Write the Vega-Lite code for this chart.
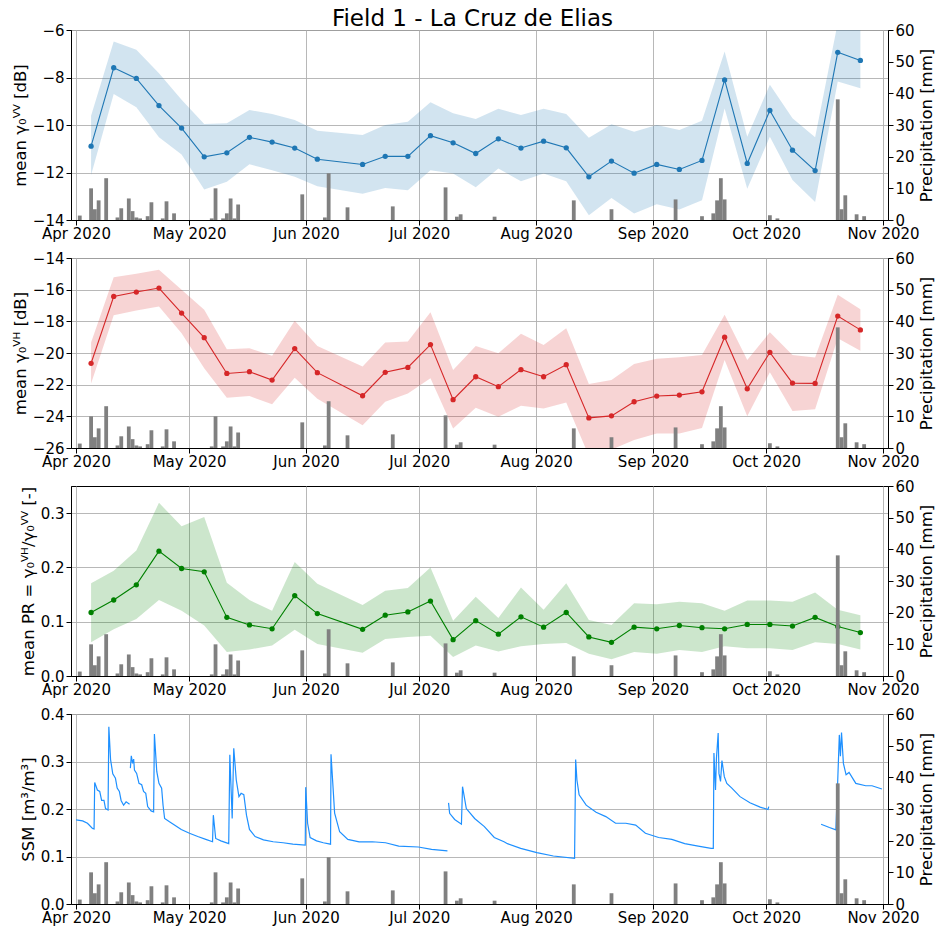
{
  "$schema": "https://vega.github.io/schema/vega-lite/v6.json",
  "padding": {"left": 11, "top": 7, "right": 0, "bottom": 0},
  "title": {"text": "Field 1 - La Cruz de Elias", "fontSize": 23, "font": "DejaVu Sans", "fontWeight": "normal", "anchor": "middle", "offset": -8, "color": "black", "dx": -1},
  "config": {
    "font": "DejaVu Sans",
    "view": {"stroke": "black", "strokeWidth": 1},
    "axis": {"labelFont": "DejaVu Sans", "labelFontSize": 15, "titleFont": "DejaVu Sans", "titleFontSize": 16.5, "titleFontWeight": "normal", "labelColor": "black", "titleColor": "black", "domainColor": "black", "tickColor": "black", "tickSize": 5, "labelPadding": 2, "gridColor": "#b0b0b0", "gridWidth": 1, "gridOpacity": 0.9},
    "axisX": {"labelPadding": 1}
  },
  "spacing": 38,
  "bounds": "flush",
  "datasets": {
    "s1": [
      {"date": "2020-04-05T00:00", "vv": -10.89, "vv_lo": -12.11, "vv_hi": -9.61, "vh": -20.65, "vh_lo": -21.92, "vh_hi": -19.34, "pr": 0.117, "pr_lo": 0.062, "pr_hi": 0.171},
      {"date": "2020-04-11T00:00", "vv": -7.59, "vv_lo": -8.69, "vv_hi": -6.48, "vh": -16.43, "vh_lo": -17.61, "vh_hi": -15.22, "pr": 0.140, "pr_lo": 0.086, "pr_hi": 0.194},
      {"date": "2020-04-17T00:00", "vv": -8.04, "vv_lo": -9.25, "vv_hi": -6.83, "vh": -16.15, "vh_lo": -17.32, "vh_hi": -14.99, "pr": 0.168, "pr_lo": 0.105, "pr_hi": 0.231},
      {"date": "2020-04-23T00:00", "vv": -9.18, "vv_lo": -10.52, "vv_hi": -7.82, "vh": -15.9, "vh_lo": -17.06, "vh_hi": -14.74, "pr": 0.230, "pr_lo": 0.140, "pr_hi": 0.319},
      {"date": "2020-04-29T00:00", "vv": -10.13, "vv_lo": -11.24, "vv_hi": -8.94, "vh": -17.48, "vh_lo": -18.75, "vh_hi": -16.0, "pr": 0.198, "pr_lo": 0.120, "pr_hi": 0.276},
      {"date": "2020-05-05T00:00", "vv": -11.34, "vv_lo": -12.72, "vv_hi": -9.96, "vh": -19.03, "vh_lo": -20.97, "vh_hi": -17.27, "pr": 0.192, "pr_lo": 0.093, "pr_hi": 0.293},
      {"date": "2020-05-11T00:00", "vv": -11.17, "vv_lo": -12.39, "vv_hi": -9.93, "vh": -21.29, "vh_lo": -22.83, "vh_hi": -19.77, "pr": 0.108, "pr_lo": 0.044, "pr_hi": 0.172},
      {"date": "2020-05-17T00:00", "vv": -10.52, "vv_lo": -11.65, "vv_hi": -9.37, "vh": -21.18, "vh_lo": -22.72, "vh_hi": -19.7, "pr": 0.094, "pr_lo": 0.049, "pr_hi": 0.140},
      {"date": "2020-05-23T00:00", "vv": -10.72, "vv_lo": -11.9, "vv_hi": -9.54, "vh": -21.71, "vh_lo": -23.23, "vh_hi": -20.17, "pr": 0.087, "pr_lo": 0.056, "pr_hi": 0.120},
      {"date": "2020-05-29T00:00", "vv": -10.97, "vv_lo": -12.18, "vv_hi": -9.79, "vh": -19.72, "vh_lo": -21.56, "vh_hi": -17.97, "pr": 0.148, "pr_lo": 0.085, "pr_hi": 0.210},
      {"date": "2020-06-04T00:00", "vv": -11.44, "vv_lo": -12.58, "vv_hi": -10.24, "vh": -21.24, "vh_lo": -22.89, "vh_hi": -19.55, "pr": 0.115, "pr_lo": 0.059, "pr_hi": 0.170},
      {"date": "2020-06-16T00:00", "vv": -11.66, "vv_lo": -12.89, "vv_hi": -10.42, "vh": -22.7, "vh_lo": -24.56, "vh_hi": -20.86, "pr": 0.086, "pr_lo": 0.043, "pr_hi": 0.131},
      {"date": "2020-06-22T00:00", "vv": -11.32, "vv_lo": -12.65, "vv_hi": -10.0, "vh": -21.22, "vh_lo": -23.08, "vh_hi": -19.34, "pr": 0.112, "pr_lo": 0.068, "pr_hi": 0.157},
      {"date": "2020-06-28T00:00", "vv": -11.32, "vv_lo": -12.75, "vv_hi": -9.86, "vh": -20.91, "vh_lo": -22.55, "vh_hi": -19.28, "pr": 0.118, "pr_lo": 0.072, "pr_hi": 0.162},
      {"date": "2020-07-04T00:00", "vv": -10.45, "vv_lo": -11.9, "vv_hi": -9.04, "vh": -19.47, "vh_lo": -21.6, "vh_hi": -17.42, "pr": 0.138, "pr_lo": 0.074, "pr_hi": 0.200},
      {"date": "2020-07-10T00:00", "vv": -10.75, "vv_lo": -12.04, "vv_hi": -9.51, "vh": -22.95, "vh_lo": -24.77, "vh_hi": -21.07, "pr": 0.067, "pr_lo": 0.035, "pr_hi": 0.102},
      {"date": "2020-07-16T00:00", "vv": -11.2, "vv_lo": -12.62, "vv_hi": -9.75, "vh": -21.5, "vh_lo": -23.46, "vh_hi": -19.55, "pr": 0.102, "pr_lo": 0.056, "pr_hi": 0.146},
      {"date": "2020-07-22T00:00", "vv": -10.58, "vv_lo": -11.83, "vv_hi": -9.32, "vh": -22.13, "vh_lo": -24.03, "vh_hi": -20.02, "pr": 0.077, "pr_lo": 0.045, "pr_hi": 0.107},
      {"date": "2020-07-28T00:00", "vv": -10.97, "vv_lo": -12.37, "vv_hi": -9.58, "vh": -21.05, "vh_lo": -23.33, "vh_hi": -18.79, "pr": 0.109, "pr_lo": 0.055, "pr_hi": 0.163},
      {"date": "2020-08-03T00:00", "vv": -10.68, "vv_lo": -12.04, "vv_hi": -9.32, "vh": -21.5, "vh_lo": -23.5, "vh_hi": -19.49, "pr": 0.090, "pr_lo": 0.059, "pr_hi": 0.122},
      {"date": "2020-08-09T00:00", "vv": -10.96, "vv_lo": -12.37, "vv_hi": -9.54, "vh": -20.74, "vh_lo": -23.12, "vh_hi": -18.43, "pr": 0.117, "pr_lo": 0.061, "pr_hi": 0.171},
      {"date": "2020-08-15T00:00", "vv": -12.18, "vv_lo": -13.8, "vv_hi": -10.54, "vh": -24.1, "vh_lo": -26.5, "vh_hi": -21.96, "pr": 0.072, "pr_lo": 0.041, "pr_hi": 0.103},
      {"date": "2020-08-21T00:00", "vv": -11.52, "vv_lo": -13.07, "vv_hi": -9.97, "vh": -23.97, "vh_lo": -26.1, "vh_hi": -21.71, "pr": 0.062, "pr_lo": 0.031, "pr_hi": 0.094},
      {"date": "2020-08-27T00:00", "vv": -12.03, "vv_lo": -13.73, "vv_hi": -10.28, "vh": -23.08, "vh_lo": -25.5, "vh_hi": -20.7, "pr": 0.090, "pr_lo": 0.044, "pr_hi": 0.134},
      {"date": "2020-09-02T00:00", "vv": -11.66, "vv_lo": -13.34, "vv_hi": -10.0, "vh": -22.72, "vh_lo": -25.09, "vh_hi": -20.36, "pr": 0.087, "pr_lo": 0.041, "pr_hi": 0.132},
      {"date": "2020-09-08T00:00", "vv": -11.87, "vv_lo": -13.56, "vv_hi": -10.21, "vh": -22.66, "vh_lo": -25.09, "vh_hi": -20.27, "pr": 0.093, "pr_lo": 0.048, "pr_hi": 0.137},
      {"date": "2020-09-14T00:00", "vv": -11.49, "vv_lo": -13.17, "vv_hi": -9.82, "vh": -22.45, "vh_lo": -24.73, "vh_hi": -20.12, "pr": 0.089, "pr_lo": 0.044, "pr_hi": 0.134},
      {"date": "2020-09-20T00:00", "vv": -8.1, "vv_lo": -9.3, "vv_hi": -6.9, "vh": -19.0, "vh_lo": -20.44, "vh_hi": -17.59, "pr": 0.087, "pr_lo": 0.055, "pr_hi": 0.120},
      {"date": "2020-09-26T00:00", "vv": -11.62, "vv_lo": -12.68, "vv_hi": -10.49, "vh": -22.26, "vh_lo": -23.99, "vh_hi": -20.44, "pr": 0.095, "pr_lo": 0.051, "pr_hi": 0.139},
      {"date": "2020-10-02T00:00", "vv": -9.39, "vv_lo": -10.49, "vv_hi": -8.31, "vh": -19.96, "vh_lo": -21.22, "vh_hi": -18.69, "pr": 0.095, "pr_lo": 0.051, "pr_hi": 0.139},
      {"date": "2020-10-08T00:00", "vv": -11.06, "vv_lo": -12.32, "vv_hi": -9.72, "vh": -21.9, "vh_lo": -23.67, "vh_hi": -20.12, "pr": 0.092, "pr_lo": 0.048, "pr_hi": 0.137},
      {"date": "2020-10-14T00:00", "vv": -11.92, "vv_lo": -13.24, "vv_hi": -10.52, "vh": -21.92, "vh_lo": -23.55, "vh_hi": -20.29, "pr": 0.108, "pr_lo": 0.062, "pr_hi": 0.154},
      {"date": "2020-10-20T00:00", "vv": -6.94, "vv_lo": -8.17, "vv_hi": -5.7, "vh": -17.67, "vh_lo": -19.07, "vh_hi": -16.32, "pr": 0.091, "pr_lo": 0.059, "pr_hi": 0.122},
      {"date": "2020-10-26T00:00", "vv": -7.28, "vv_lo": -8.45, "vv_hi": -5.9, "vh": -18.54, "vh_lo": -19.85, "vh_hi": -17.23, "pr": 0.080, "pr_lo": 0.049, "pr_hi": 0.112}
    ],
    "precip": [
      {"date": "2020-04-02T00:00", "mm": 1.4}, {"date": "2020-04-05T00:00", "mm": 10.0}, {"date": "2020-04-06T00:00", "mm": 3.4}, {"date": "2020-04-07T00:00", "mm": 6.2},
      {"date": "2020-04-09T00:00", "mm": 13.2}, {"date": "2020-04-12T00:00", "mm": 0.8}, {"date": "2020-04-13T00:00", "mm": 3.7}, {"date": "2020-04-15T00:00", "mm": 6.8},
      {"date": "2020-04-16T00:00", "mm": 2.8}, {"date": "2020-04-17T00:00", "mm": 0.8}, {"date": "2020-04-18T00:00", "mm": 0.5}, {"date": "2020-04-20T00:00", "mm": 1.2},
      {"date": "2020-04-21T00:00", "mm": 5.6}, {"date": "2020-04-24T00:00", "mm": 0.5}, {"date": "2020-04-25T00:00", "mm": 5.9}, {"date": "2020-04-27T00:00", "mm": 2.1},
      {"date": "2020-05-07T00:00", "mm": 0.5}, {"date": "2020-05-08T00:00", "mm": 10.0}, {"date": "2020-05-10T00:00", "mm": 0.5}, {"date": "2020-05-11T00:00", "mm": 2.1},
      {"date": "2020-05-12T00:00", "mm": 6.8}, {"date": "2020-05-13T00:00", "mm": 0.5}, {"date": "2020-05-14T00:00", "mm": 4.9}, {"date": "2020-05-31T00:00", "mm": 8.1},
      {"date": "2020-06-06T00:00", "mm": 0.8}, {"date": "2020-06-07T00:00", "mm": 14.8}, {"date": "2020-06-12T00:00", "mm": 4.0}, {"date": "2020-06-24T00:00", "mm": 4.3},
      {"date": "2020-07-08T00:00", "mm": 10.3}, {"date": "2020-07-11T00:00", "mm": 1.05}, {"date": "2020-07-12T00:00", "mm": 1.8}, {"date": "2020-07-21T00:00", "mm": 1.05},
      {"date": "2020-08-11T00:00", "mm": 6.2}, {"date": "2020-08-21T00:00", "mm": 3.4}, {"date": "2020-09-07T00:00", "mm": 6.5}, {"date": "2020-09-14T00:00", "mm": 1.2},
      {"date": "2020-09-17T00:00", "mm": 2.1}, {"date": "2020-09-18T00:00", "mm": 6.2}, {"date": "2020-09-19T00:00", "mm": 13.2}, {"date": "2020-09-20T00:00", "mm": 6.5},
      {"date": "2020-10-02T00:00", "mm": 1.5}, {"date": "2020-10-04T00:00", "mm": 0.5}, {"date": "2020-10-20T00:00", "mm": 38.1}, {"date": "2020-10-21T00:00", "mm": 3.4},
      {"date": "2020-10-22T00:00", "mm": 7.8}, {"date": "2020-10-25T00:00", "mm": 1.8}, {"date": "2020-10-27T00:00", "mm": 1.2}
    ],
    "ssm": [
      {"date": "2020-04-01T00:00", "ssm": 0.177, "seg": "a"}, {"date": "2020-04-02T18:00", "ssm": 0.175, "seg": "a"}, {"date": "2020-04-04T01:00", "ssm": 0.170, "seg": "a"},
      {"date": "2020-04-05T09:00", "ssm": 0.159, "seg": "a"}, {"date": "2020-04-05T19:00", "ssm": 0.158, "seg": "a"}, {"date": "2020-04-05T23:00", "ssm": 0.256, "seg": "a"},
      {"date": "2020-04-06T16:00", "ssm": 0.240, "seg": "a"}, {"date": "2020-04-07T07:00", "ssm": 0.237, "seg": "a"}, {"date": "2020-04-07T19:00", "ssm": 0.218, "seg": "a"},
      {"date": "2020-04-08T10:00", "ssm": 0.218, "seg": "a"}, {"date": "2020-04-08T20:00", "ssm": 0.201, "seg": "a"}, {"date": "2020-04-09T12:00", "ssm": 0.198, "seg": "a"},
      {"date": "2020-04-09T17:00", "ssm": 0.373, "seg": "a"}, {"date": "2020-04-10T04:00", "ssm": 0.304, "seg": "a"}, {"date": "2020-04-10T18:00", "ssm": 0.274, "seg": "a"},
      {"date": "2020-04-11T11:00", "ssm": 0.265, "seg": "a"}, {"date": "2020-04-11T22:00", "ssm": 0.244, "seg": "a"}, {"date": "2020-04-12T12:00", "ssm": 0.237, "seg": "a"},
      {"date": "2020-04-12T23:00", "ssm": 0.218, "seg": "a"}, {"date": "2020-04-13T15:00", "ssm": 0.208, "seg": "a"}, {"date": "2020-04-14T07:00", "ssm": 0.215, "seg": "a"},
      {"date": "2020-04-15T05:00", "ssm": 0.210, "seg": "a"},
      {"date": "2020-04-15T10:00", "ssm": 0.286, "seg": "b"}, {"date": "2020-04-15T16:00", "ssm": 0.312, "seg": "b"}, {"date": "2020-04-16T00:00", "ssm": 0.296, "seg": "b"},
      {"date": "2020-04-16T07:00", "ssm": 0.305, "seg": "b"}, {"date": "2020-04-16T12:00", "ssm": 0.282, "seg": "b"}, {"date": "2020-04-17T02:00", "ssm": 0.275, "seg": "b"},
      {"date": "2020-04-17T17:00", "ssm": 0.254, "seg": "b"}, {"date": "2020-04-18T10:00", "ssm": 0.251, "seg": "b"}, {"date": "2020-04-18T22:00", "ssm": 0.237, "seg": "b"},
      {"date": "2020-04-19T12:00", "ssm": 0.233, "seg": "b"}, {"date": "2020-04-20T00:00", "ssm": 0.205, "seg": "b"}, {"date": "2020-04-20T22:00", "ssm": 0.196, "seg": "b"},
      {"date": "2020-04-21T14:00", "ssm": 0.194, "seg": "b"}, {"date": "2020-04-21T19:00", "ssm": 0.358, "seg": "b"}, {"date": "2020-04-22T10:00", "ssm": 0.279, "seg": "b"},
      {"date": "2020-04-23T00:00", "ssm": 0.254, "seg": "b"}, {"date": "2020-04-23T17:00", "ssm": 0.244, "seg": "b"}, {"date": "2020-04-24T02:00", "ssm": 0.208, "seg": "b"},
      {"date": "2020-04-24T12:00", "ssm": 0.180, "seg": "b"}, {"date": "2020-04-25T19:00", "ssm": 0.173, "seg": "b"}, {"date": "2020-04-27T05:00", "ssm": 0.166, "seg": "b"},
      {"date": "2020-04-28T22:00", "ssm": 0.157, "seg": "b"}, {"date": "2020-05-01T02:00", "ssm": 0.149, "seg": "b"}, {"date": "2020-05-03T07:00", "ssm": 0.142, "seg": "b"},
      {"date": "2020-05-05T10:00", "ssm": 0.136, "seg": "b"}, {"date": "2020-05-07T05:00", "ssm": 0.131, "seg": "b"}, {"date": "2020-05-07T10:00", "ssm": 0.187, "seg": "b"},
      {"date": "2020-05-08T01:00", "ssm": 0.138, "seg": "b"}, {"date": "2020-05-09T10:00", "ssm": 0.133, "seg": "b"}, {"date": "2020-05-11T12:00", "ssm": 0.127, "seg": "b"},
      {"date": "2020-05-11T19:00", "ssm": 0.314, "seg": "b"}, {"date": "2020-05-12T10:00", "ssm": 0.180, "seg": "b"}, {"date": "2020-05-12T20:00", "ssm": 0.328, "seg": "b"},
      {"date": "2020-05-13T12:00", "ssm": 0.261, "seg": "b"}, {"date": "2020-05-14T05:00", "ssm": 0.226, "seg": "b"}, {"date": "2020-05-14T19:00", "ssm": 0.233, "seg": "b"},
      {"date": "2020-05-15T12:00", "ssm": 0.230, "seg": "b"}, {"date": "2020-05-16T05:00", "ssm": 0.187, "seg": "b"}, {"date": "2020-05-17T00:00", "ssm": 0.157, "seg": "b"},
      {"date": "2020-05-18T12:00", "ssm": 0.142, "seg": "b"}, {"date": "2020-05-20T17:00", "ssm": 0.135, "seg": "b"}, {"date": "2020-05-23T07:00", "ssm": 0.131, "seg": "b"},
      {"date": "2020-05-25T22:00", "ssm": 0.129, "seg": "b"}, {"date": "2020-05-28T12:00", "ssm": 0.126, "seg": "b"}, {"date": "2020-05-31T19:00", "ssm": 0.124, "seg": "b"},
      {"date": "2020-05-31T22:00", "ssm": 0.246, "seg": "b"}, {"date": "2020-06-01T10:00", "ssm": 0.170, "seg": "b"}, {"date": "2020-06-02T02:00", "ssm": 0.140, "seg": "b"},
      {"date": "2020-06-03T19:00", "ssm": 0.133, "seg": "b"}, {"date": "2020-06-05T14:00", "ssm": 0.129, "seg": "b"}, {"date": "2020-06-07T12:00", "ssm": 0.126, "seg": "b"},
      {"date": "2020-06-07T15:00", "ssm": 0.315, "seg": "b"}, {"date": "2020-06-08T14:00", "ssm": 0.191, "seg": "b"}, {"date": "2020-06-09T22:00", "ssm": 0.152, "seg": "b"},
      {"date": "2020-06-12T02:00", "ssm": 0.136, "seg": "b"}, {"date": "2020-06-15T02:00", "ssm": 0.131, "seg": "b"}, {"date": "2020-06-18T14:00", "ssm": 0.131, "seg": "b"},
      {"date": "2020-06-22T02:00", "ssm": 0.129, "seg": "b"}, {"date": "2020-06-25T14:00", "ssm": 0.122, "seg": "b"}, {"date": "2020-06-30T19:00", "ssm": 0.120, "seg": "b"},
      {"date": "2020-07-04T07:00", "ssm": 0.115, "seg": "b"}, {"date": "2020-07-08T12:00", "ssm": 0.112, "seg": "b"},
      {"date": "2020-07-08T19:00", "ssm": 0.213, "seg": "c"}, {"date": "2020-07-09T02:00", "ssm": 0.191, "seg": "c"}, {"date": "2020-07-10T10:00", "ssm": 0.178, "seg": "c"},
      {"date": "2020-07-12T05:00", "ssm": 0.168, "seg": "c"}, {"date": "2020-07-12T12:00", "ssm": 0.247, "seg": "c"}, {"date": "2020-07-13T12:00", "ssm": 0.201, "seg": "c"},
      {"date": "2020-07-15T17:00", "ssm": 0.180, "seg": "c"}, {"date": "2020-07-18T07:00", "ssm": 0.163, "seg": "c"}, {"date": "2020-07-20T22:00", "ssm": 0.140, "seg": "c"},
      {"date": "2020-07-23T12:00", "ssm": 0.131, "seg": "c"}, {"date": "2020-07-24T10:00", "ssm": 0.127, "seg": "c"}, {"date": "2020-07-27T22:00", "ssm": 0.117, "seg": "c"},
      {"date": "2020-08-01T05:00", "ssm": 0.108, "seg": "c"}, {"date": "2020-08-05T14:00", "ssm": 0.101, "seg": "c"}, {"date": "2020-08-11T05:00", "ssm": 0.096, "seg": "c"},
      {"date": "2020-08-11T12:00", "ssm": 0.304, "seg": "c"}, {"date": "2020-08-11T20:00", "ssm": 0.261, "seg": "c"}, {"date": "2020-08-12T10:00", "ssm": 0.230, "seg": "c"},
      {"date": "2020-08-14T07:00", "ssm": 0.208, "seg": "c"}, {"date": "2020-08-16T22:00", "ssm": 0.193, "seg": "c"}, {"date": "2020-08-19T12:00", "ssm": 0.184, "seg": "c"},
      {"date": "2020-08-22T02:00", "ssm": 0.170, "seg": "c"}, {"date": "2020-08-24T19:00", "ssm": 0.170, "seg": "c"}, {"date": "2020-08-27T10:00", "ssm": 0.166, "seg": "c"},
      {"date": "2020-08-30T00:00", "ssm": 0.149, "seg": "c"}, {"date": "2020-09-02T12:00", "ssm": 0.140, "seg": "c"}, {"date": "2020-09-06T00:00", "ssm": 0.136, "seg": "c"},
      {"date": "2020-09-09T10:00", "ssm": 0.127, "seg": "c"}, {"date": "2020-09-13T00:00", "ssm": 0.122, "seg": "c"}, {"date": "2020-09-16T10:00", "ssm": 0.117, "seg": "c"},
      {"date": "2020-09-17T00:00", "ssm": 0.117, "seg": "c"}, {"date": "2020-09-17T04:00", "ssm": 0.318, "seg": "c"}, {"date": "2020-09-17T14:00", "ssm": 0.240, "seg": "c"},
      {"date": "2020-09-17T20:00", "ssm": 0.307, "seg": "c"}, {"date": "2020-09-18T07:00", "ssm": 0.360, "seg": "c"}, {"date": "2020-09-18T12:00", "ssm": 0.275, "seg": "c"},
      {"date": "2020-09-18T22:00", "ssm": 0.258, "seg": "c"}, {"date": "2020-09-19T07:00", "ssm": 0.302, "seg": "c"}, {"date": "2020-09-19T22:00", "ssm": 0.268, "seg": "c"},
      {"date": "2020-09-20T14:00", "ssm": 0.254, "seg": "c"}, {"date": "2020-09-21T22:00", "ssm": 0.244, "seg": "c"}, {"date": "2020-09-24T02:00", "ssm": 0.226, "seg": "c"},
      {"date": "2020-09-26T17:00", "ssm": 0.213, "seg": "c"}, {"date": "2020-09-29T10:00", "ssm": 0.204, "seg": "c"}, {"date": "2020-10-01T12:00", "ssm": 0.199, "seg": "c"},
      {"date": "2020-10-01T17:00", "ssm": 0.205, "seg": "c"},
      {"date": "2020-10-15T14:00", "ssm": 0.168, "seg": "d"}, {"date": "2020-10-17T19:00", "ssm": 0.161, "seg": "d"}, {"date": "2020-10-19T12:00", "ssm": 0.156, "seg": "d"},
      {"date": "2020-10-20T00:00", "ssm": 0.261, "seg": "d"}, {"date": "2020-10-20T10:00", "ssm": 0.356, "seg": "d"}, {"date": "2020-10-20T17:00", "ssm": 0.311, "seg": "d"},
      {"date": "2020-10-21T00:00", "ssm": 0.361, "seg": "d"}, {"date": "2020-10-21T12:00", "ssm": 0.296, "seg": "d"}, {"date": "2020-10-22T05:00", "ssm": 0.272, "seg": "d"},
      {"date": "2020-10-23T00:00", "ssm": 0.277, "seg": "d"}, {"date": "2020-10-24T19:00", "ssm": 0.254, "seg": "d"}, {"date": "2020-10-27T10:00", "ssm": 0.249, "seg": "d"},
      {"date": "2020-10-29T02:00", "ssm": 0.249, "seg": "d"}, {"date": "2020-10-31T17:00", "ssm": 0.242, "seg": "d"}
    ]
  },
  "vconcat": [
    {
      "width": 817, "height": 190,
      "layer": [
        {"layer": [
          {"data": {"name": "s1"}, "mark": {"type": "area", "color": "#1f77b4", "opacity": 0.2, "clip": true},
           "encoding": {
             "x": {"field": "date", "type": "temporal", "scale": {"domain": [{"year": 2020, "month": 4, "date": 1}, {"year": 2020, "month": 11, "date": 1}]}, "axis": {"title": null, "format": "%b %Y", "tickCount": {"interval": "month", "step": 1}, "grid": true, "labelFlush": false, "labelOverlap": false}},
             "y": {"field": "vv_lo", "type": "quantitative", "scale": {"domain": [-14, -6], "nice": false, "zero": false}, "axis": {"title": "mean γ₀ⱽⱽ [dB]", "values": [-14, -12, -10, -8, -6], "format": "d", "grid": true}},
             "y2": {"field": "vv_hi"}}},
          {"data": {"name": "s1"}, "mark": {"type": "line", "color": "#1f77b4", "strokeWidth": 1.1, "clip": true, "point": {"filled": true, "size": 28, "color": "#1f77b4"}},
           "encoding": {
             "x": {"field": "date", "type": "temporal"},
             "y": {"field": "vv", "type": "quantitative", "scale": {"domain": [-14, -6], "nice": false, "zero": false}, "axis": {"title": "mean γ₀ⱽⱽ [dB]", "values": [-14, -12, -10, -8, -6], "format": "d", "grid": true}}}}
        ]},
        {"data": {"name": "precip"}, "mark": {"type": "bar", "color": "gray", "width": 3.8},
         "encoding": {
           "x": {"field": "date", "type": "temporal"},
           "y": {"field": "mm", "type": "quantitative", "scale": {"domain": [0, 60], "nice": false}, "axis": {"orient": "right", "title": "Precipitation [mm]", "values": [0, 10, 20, 30, 40, 50, 60], "grid": false, "titleAngle": 270, "titleBaseline": "top"}}}}
      ],
      "resolve": {"scale": {"y": "independent"}}
    },
    {
      "width": 817, "height": 190,
      "layer": [
        {"layer": [
          {"data": {"name": "s1"}, "mark": {"type": "area", "color": "#d62728", "opacity": 0.2, "clip": true},
           "encoding": {
             "x": {"field": "date", "type": "temporal", "scale": {"domain": [{"year": 2020, "month": 4, "date": 1}, {"year": 2020, "month": 11, "date": 1}]}, "axis": {"title": null, "format": "%b %Y", "tickCount": {"interval": "month", "step": 1}, "grid": true, "labelFlush": false, "labelOverlap": false}},
             "y": {"field": "vh_lo", "type": "quantitative", "scale": {"domain": [-26, -14], "nice": false, "zero": false}, "axis": {"title": "mean γ₀ⱽᴴ [dB]", "values": [-26, -24, -22, -20, -18, -16, -14], "format": "d", "grid": true}},
             "y2": {"field": "vh_hi"}}},
          {"data": {"name": "s1"}, "mark": {"type": "line", "color": "#d62728", "strokeWidth": 1.1, "clip": true, "point": {"filled": true, "size": 28, "color": "#d62728"}},
           "encoding": {
             "x": {"field": "date", "type": "temporal"},
             "y": {"field": "vh", "type": "quantitative", "scale": {"domain": [-26, -14], "nice": false, "zero": false}, "axis": {"title": "mean γ₀ⱽᴴ [dB]", "values": [-26, -24, -22, -20, -18, -16, -14], "format": "d", "grid": true}}}}
        ]},
        {"data": {"name": "precip"}, "mark": {"type": "bar", "color": "gray", "width": 3.8},
         "encoding": {
           "x": {"field": "date", "type": "temporal"},
           "y": {"field": "mm", "type": "quantitative", "scale": {"domain": [0, 60], "nice": false}, "axis": {"orient": "right", "title": "Precipitation [mm]", "values": [0, 10, 20, 30, 40, 50, 60], "grid": false, "titleAngle": 270, "titleBaseline": "top"}}}}
      ],
      "resolve": {"scale": {"y": "independent"}}
    },
    {
      "width": 817, "height": 190,
      "layer": [
        {"layer": [
          {"data": {"name": "s1"}, "mark": {"type": "area", "color": "green", "opacity": 0.2, "clip": true},
           "encoding": {
             "x": {"field": "date", "type": "temporal", "scale": {"domain": [{"year": 2020, "month": 4, "date": 1}, {"year": 2020, "month": 11, "date": 1}]}, "axis": {"title": null, "format": "%b %Y", "tickCount": {"interval": "month", "step": 1}, "grid": true, "labelFlush": false, "labelOverlap": false}},
             "y": {"field": "pr_lo", "type": "quantitative", "scale": {"domain": [0, 0.35], "nice": false}, "axis": {"title": "mean PR = γ₀ⱽᴴ/γ₀ⱽⱽ [-]", "values": [0, 0.1, 0.2, 0.3], "format": ".1f", "grid": true}},
             "y2": {"field": "pr_hi"}}},
          {"data": {"name": "s1"}, "mark": {"type": "line", "color": "green", "strokeWidth": 1.1, "clip": true, "point": {"filled": true, "size": 28, "color": "green"}},
           "encoding": {
             "x": {"field": "date", "type": "temporal"},
             "y": {"field": "pr", "type": "quantitative", "scale": {"domain": [0, 0.35], "nice": false}, "axis": {"title": "mean PR = γ₀ⱽᴴ/γ₀ⱽⱽ [-]", "values": [0, 0.1, 0.2, 0.3], "format": ".1f", "grid": true}}}}
        ]},
        {"data": {"name": "precip"}, "mark": {"type": "bar", "color": "gray", "width": 3.8},
         "encoding": {
           "x": {"field": "date", "type": "temporal"},
           "y": {"field": "mm", "type": "quantitative", "scale": {"domain": [0, 60], "nice": false}, "axis": {"orient": "right", "title": "Precipitation [mm]", "values": [0, 10, 20, 30, 40, 50, 60], "grid": false, "titleAngle": 270, "titleBaseline": "top"}}}}
      ],
      "resolve": {"scale": {"y": "independent"}}
    },
    {
      "width": 817, "height": 190,
      "layer": [
        {"data": {"name": "ssm"}, "mark": {"type": "line", "color": "#1e90ff", "strokeWidth": 1.2, "clip": true},
         "encoding": {
           "x": {"field": "date", "type": "temporal", "scale": {"domain": [{"year": 2020, "month": 4, "date": 1}, {"year": 2020, "month": 11, "date": 1}]}, "axis": {"title": null, "format": "%b %Y", "tickCount": {"interval": "month", "step": 1}, "grid": true, "labelFlush": false, "labelOverlap": false}},
           "y": {"field": "ssm", "type": "quantitative", "scale": {"domain": [0, 0.4], "nice": false}, "axis": {"title": "SSM [m³/m³]", "values": [0, 0.1, 0.2, 0.3, 0.4], "format": ".1f", "grid": true}},
           "detail": {"field": "seg", "type": "nominal"}}},
        {"data": {"name": "precip"}, "mark": {"type": "bar", "color": "gray", "width": 3.8},
         "encoding": {
           "x": {"field": "date", "type": "temporal"},
           "y": {"field": "mm", "type": "quantitative", "scale": {"domain": [0, 60], "nice": false}, "axis": {"orient": "right", "title": "Precipitation [mm]", "values": [0, 10, 20, 30, 40, 50, 60], "grid": false, "titleAngle": 270, "titleBaseline": "top"}}}}
      ],
      "resolve": {"scale": {"y": "independent"}}
    }
  ]
}
